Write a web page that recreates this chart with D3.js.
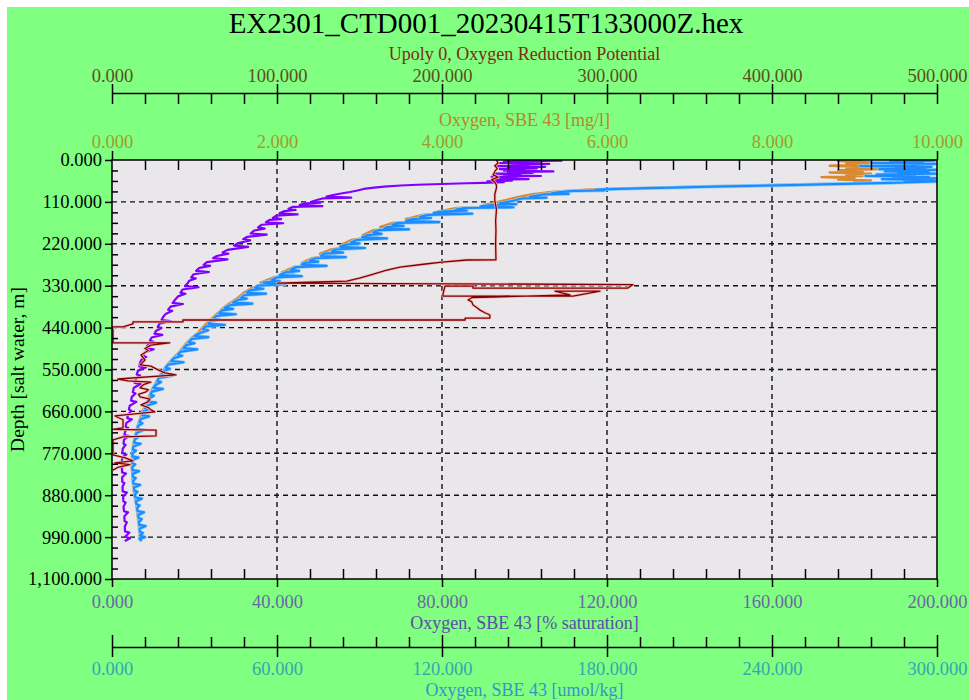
<!DOCTYPE html>
<html>
<head>
<meta charset="utf-8">
<script src="https://cdn.jsdelivr.net/npm/d3@7"></script>
<style>
  body { margin: 0; background: #fff; }
  text { font-family: "Liberation Serif", "Times New Roman", serif; }
</style>
</head>
<body>
<script>
// Tick values of each axis
var depthTicks = [0, 110, 220, 330, 440, 550, 660, 770, 880, 990, 1100];
var orpTicks = [0, 100, 200, 300, 400, 500];
var mglTicks = [0, 2, 4, 6, 8, 10];
var satTicks = [0, 40, 80, 120, 160, 200];
var umolTicks = [0, 60, 120, 180, 240, 300];

// Axis titles
var chartTitle = "EX2301_CTD001_20230415T133000Z.hex";
var orpTitle = "Upoly 0, Oxygen Reduction Potential";
var mglTitle = "Oxygen, SBE 43 [mg/l]";
var satTitle = "Oxygen, SBE 43 [% saturation]";
var umolTitle = "Oxygen, SBE 43 [umol/kg]";
var depthTitle = "Depth [salt water, m]";

// Series: [depth m, value]
var oxUmol = [[0,290],[2,299],[4,283],[6,295],[8,276],[10,300],[12,287],[14,293],[16,272],[18,298],[20,285],[22,296],[24,279],[26,300],[28,290],[30,281],[32,297],[34,286],[36,300],[38,278],[40,292],[42,274],[44,297],[46,284],[48,300],[50,280],[52,299],[54,288],[56,300],[58,291],
  [60,283],[62,270],[64,258],[66,246],[68,232],[70,218],[72,207],[74,195],[76,184],[78,176],[80,179],[81,168],[84,163],[87,160],[89,166],[90,157],[94,154],[97,152],[99,158],[101,149],[105,147],[110,144],
  [114,141],[116,147],[118,138],[122,134],[124,146],[126,128],[130,125],[133,129],[135,121],[139,117],[141,131],[144,115],[149,112],[152,116],[155,109],[160,107],[163,119],[165,104],[170,102],[173,106],[176,100],[180,99],[182,108],[184,97],[190,95],[194,98],[197,93],[203,91],[206,100],[210,89],[216,87],[219,90],[222,85],[228,83],[231,92],[235,81],[240,80],[243,84],[246,77],[252,76],[255,85],[258,74],[264,72],[267,75],[270,70],[275,69],[278,78],[281,67],[288,65],[291,68],[295,63],[302,61],[305,69],[308,60],[315,58],[318,61],[322,55],[326,63],[330,53],[335,52],[338,55],[342,50],[348,49],[351,56],[355,48],[361,47],[364,49],[367,46],[374,44],[377,51],[381,43],[388,41],[391,44],[395,40],[402,39],[405,45],[409,38],[416,37],[419,39],[423,36],[430,35],[433,41],[437,34],[444,33],[447,35],[454,32],[462,30],[465,35],[470,29],[478,28],[481,30],[486,27],[494,26],[497,31],[503,25],[511,24],[514,25.5],[520,22.5],[528,21.5],[531,26],[537,20.5],[545,19.5],[548,21],[555,18.5],[563,18],[566,22],[572,17],[580,16.5],[583,17.8],[590,16],[598,15],[601,18.5],[608,14.5],[616,14],[619,15.2],[626,13.5],[634,13],[637,16],[645,12.5],[652,12],[655,13],[662,11],[670,11],[673,13.5],[680,10.5],[688,10],[691,11],[698,9.5],[706,9.2],[709,11.5],[716,9],[724,8.6],[727,9.6],[734,8.3],[742,8],[745,10.4],[752,7.8],[760,7.6],[763,8.7],[770,7.4],[778,7.4],[781,9.6],[788,7.3],[796,7.3],[799,8.4],[806,7.4],[814,7.4],[817,9.8],[824,7.5],[832,7.6],[835,8.6],[842,7.7],[850,7.8],[853,10.2],[860,8],[868,8.1],[871,9.2],[878,8.3],[886,8.5],[889,10.8],[896,8.7],[904,8.9],[907,10],[914,9.1],[922,9.3],[925,11.6],[932,9.5],[940,9.7],[943,10.8],[950,9.8],[958,9.9],[961,12.2],[968,10],[976,10.1],[979,11.2],[986,10.2],[990,12],[994,10],[1000,10.8]];

var oxMgl = [[0,9.1],[3,8.8],[6,9.3],[9,8.9],[12,9.2],[15,8.7],[18,9.15],[21,8.9],[24,9.3],[27,8.8],[30,9.1],[33,8.7],[36,9.2],[39,8.9],[42,9.1],[45,8.6],[48,9.0],[51,8.8],[54,9.2],[57,9.0],[60,9.2],[62,8.8],[64,8.3],[66,7.9],[68,7.5],[70,7.0],[72,6.7],[74,6.3],[76,6.0],[78,5.75],[81,5.5],[84,5.32],[87,5.2],[90,5.1],[94,5.0],[97,4.93],[101,4.85],[105,4.78],[110,4.68],[118,4.5],[121,4.75],[126,4.18],[135,3.95],[138,4.2],[144,3.76],[155,3.56],[158,3.8],[165,3.4],[176,3.25],[179,3.45],[184,3.17],[197,3.04],[200,3.2],[210,2.9],[222,2.78],[225,2.98],[235,2.65],[246,2.52],[249,2.7],[258,2.42],[270,2.3],[273,2.48],[281,2.2],[295,2.06],[298,2.2],[308,1.96],[322,1.8],[326,1.95],[335,1.7],[348,1.6],[361,1.53],[374,1.44],[388,1.35],[402,1.28],[416,1.21],[430,1.14],[444,1.08],[454,1.04],[470,0.95],[486,0.88],[503,0.82],[520,0.74],[537,0.67],[555,0.61],[572,0.56],[590,0.52],[608,0.47],[626,0.44],[645,0.41],[662,0.36],[680,0.34],[698,0.31],[716,0.29],[734,0.27],[752,0.255],[770,0.243],[788,0.24],[806,0.24],[824,0.245],[842,0.25],[860,0.26],[878,0.27],[896,0.285],[914,0.3],[932,0.31],[950,0.32],[968,0.33],[986,0.335],[1000,0.34]];

var oxSat = [[0,97],[2,109],[4,95],[6,104],[8,94],[10,106],[12,97],[14,101],[16,93],[18,105],[20,96],[22,103],[24,94],[26,100],[28,95],[30,107],[32,96],[34,102],[36,93],[38,99],[40,95],[42,104],[44,92],[46,98],[48,94],[50,101],[52,93],[54,97],[56,91],[58,95],[60,90],
  [61,86],[63,80],[65,74],[67,70],[70,66],[73,63],[76,61],[80,59.5],[84,57.7],[88,55.5],[92,53.6],[96,52],[99,58],[101,51],[105,49.7],[109,48.5],[112,50.5],[114,47],[118,45.5],[121,51],[123,43.9],[128,42.8],[131,44.5],[134,41.8],[140,40.6],[143,45],[146,39.8],[152,39],[155,41],[157,38.3],[163,37.3],[166,41.5],[170,36.3],[177,35.4],[180,37],[185,34.5],[193,33.6],[196,37.5],[202,32.7],[208,31.8],[211,33.5],[218,30.6],[225,29.6],[228,33],[236,28],[243,26.8],[246,28.2],[252,25.4],[258,24.5],[261,28],[268,23],[275,22.2],[278,23.8],[283,21.2],[291,20.4],[294,23.5],[300,19.8],[308,19.2],[311,20.3],[317,18.7],[323,18.4],[331,17.7],[334,21],[340,17.1],[348,16.6],[351,17.8],[358,16],[367,15.3],[375,14.7],[378,17.2],[385,14.2],[393,13.6],[396,14.6],[404,13],[412,12.4],[420,12],[423,14.2],[430,11.5],[438,11.1],[441,12],[448,10.7],[456,10.3],[459,12.2],[466,9.6],[474,9.2],[477,10],[485,8.7],[494,8.3],[497,10.1],[505,7.9],[514,7.5],[517,8.3],[525,7.1],[533,6.8],[542,6.6],[545,8.2],[553,6.3],[563,6.0],[566,6.8],[575,5.8],[585,5.5],[588,6.9],[598,5.3],[610,5.05],[613,5.7],[622,4.8],[632,4.6],[635,5.9],[645,4.3],[655,4.1],[658,4.7],[668,3.9],[678,3.7],[681,4.8],[690,3.5],[700,3.3],[703,3.9],[712,3.2],[722,3],[725,4.1],[734,2.9],[745,2.8],[748,3.3],[758,2.6],[770,2.5],[773,3.5],[782,2.45],[795,2.4],[798,2.9],[808,2.4],[820,2.45],[823,3.4],[833,2.45],[845,2.5],[848,3],[858,2.55],[870,2.6],[873,3.6],[884,2.7],[896,2.75],[899,3.3],[910,2.8],[922,2.9],[925,3.9],[935,3],[948,3.05],[951,3.6],[962,3.1],[975,3.15],[978,4.2],[989,3.2],[993,4.4],[1000,3.1]];

var orp = [[0,233],[8,234],[15,232],[22,233.5],[30,232],[39,231],[45,234],[52,230],[58,232],[66,233],[73,233],[90,232],[105,232],[130,233],[160,232.5],[184,232.7],[220,232.5],[262,232.7],[262.5,215],[268,200],[273,190],[281,174.5],[290,166],[302,156.4],[310,150],[318,142.4],[321,120],[323,100],[327,315.8],[336,312.7],[336.5,218.8],[331,218.8],[331,201.8],[352,200.6],[357,200.6],[357.5,279.4],[344,295.8],[344,268.5],[354,277.6],[361,218.2],[367.5,215.8],[372,218],[380.5,218.8],[387,221],[394,223],[401,226],[407,229],[415,229],[415,214],[420,214],[420,43],[425,43],[425,12.7],[430,12.7],[438,6.7],[438,0],[446,0.6],[480,0.6],[480,35],[486,23.6],[495,20],[500,22],[512,17.6],[525,20],[538,17],[541,23.6],[551,27.9],[559,32],[564,38.8],[575,3.6],[580,9.7],[583,23.6],[590,19],[598,17],[603,22],[609,20.6],[615,16],[622,17],[628,23],[635,21.8],[643,17.6],[650,22],[656,23.6],[661,26],[672,1.8],[682,6.7],[703,6.7],[707,0.6],[709,26.7],[724,26.7],[727,6.7],[735,0.6],[774,0.6],[782,8],[790,12.7],[795,1.8],[800,10.9],[806,4],[814,0.6]];

var svg = d3.select("body")
            .append("svg")
            .attr("width", 969)
            .attr("height", 700);

var margin = {top: 160, left: 112},
    width = 825,
    height = 419;

var fmt = d3.format(",.3f");

// Scales
var y = d3.scaleLinear().domain([0, 1100]).range([margin.top, margin.top + height]);
var xOrp = d3.scaleLinear().domain([0, 500]).range([margin.left, margin.left + width]);
var xMgl = d3.scaleLinear().domain([0, 10]).range([margin.left, margin.left + width]);
var xSat = d3.scaleLinear().domain([0, 200]).range([margin.left, margin.left + width]);
var xUmol = d3.scaleLinear().domain([0, 300]).range([margin.left, margin.left + width]);

function minors(ticks, n) {
  var out = [];
  for (var i = 0; i < ticks.length - 1; i++) {
    var step = (ticks[i + 1] - ticks[i]) / n;
    for (var k = 1; k < n; k++) out.push(ticks[i] + k * step);
  }
  return out;
}

// Background
svg.append("rect").attr("x", 7).attr("y", 7).attr("width", 962).attr("height", 693).attr("fill", "#80ff80");
svg.append("rect")
  .attr("x", margin.left).attr("y", margin.top)
  .attr("width", width).attr("height", height)
  .attr("fill", "#e9e7ea");

svg.append("clipPath").attr("id", "clip")
  .append("rect")
  .attr("x", margin.left).attr("y", margin.top)
  .attr("width", width).attr("height", height);

// Grid
var grid = svg.append("g").attr("stroke", "#111").attr("stroke-width", 1.4).attr("stroke-dasharray", "5,4");
grid.selectAll(".gx")
  .data(mglTicks.slice(1, -1))
  .enter().append("line")
  .attr("x1", function(d) { return xMgl(d); })
  .attr("x2", function(d) { return xMgl(d); })
  .attr("y1", margin.top)
  .attr("y2", margin.top + height);
grid.selectAll(".gy")
  .data(depthTicks.slice(1, -1))
  .enter().append("line")
  .attr("x1", margin.left)
  .attr("x2", margin.left + width)
  .attr("y1", function(d) { return y(d); })
  .attr("y2", function(d) { return y(d); });

// Traces
var plot = svg.append("g").attr("clip-path", "url(#clip)");

function trace(data, xs, color, w, halo, hw) {
  var line = d3.line()
    .x(function(d) { return xs(d[1]); })
    .y(function(d) { return y(d[0]); });
  if (halo) {
    plot.append("path").datum(data)
      .attr("fill", "none").attr("stroke", halo).attr("stroke-width", hw)
      .attr("stroke-linejoin", "round").attr("d", line);
  }
  plot.append("path").datum(data)
    .attr("fill", "none").attr("stroke", color).attr("stroke-width", w)
    .attr("stroke-linejoin", "round").attr("d", line);
}

trace(oxMgl, xMgl, "#d9892f", 2.4);
trace(oxUmol, xUmol, "#1e8cff", 2.2, "#8fd2ff", 3.6);
trace(oxSat, xSat, "#8000ff", 2.2);
trace(orp, xOrp, "#800000", 1.3, "#f3b8b8", 2.8);

// Plot frame
svg.append("rect")
  .attr("x", margin.left).attr("y", margin.top)
  .attr("width", width).attr("height", height)
  .attr("fill", "none").attr("stroke", "#000").attr("stroke-width", 1.5);

function styleAxis(g, color) {
  g.selectAll(".tick line").attr("stroke", "#000").attr("stroke-width", 1.5);
  g.select(".domain").attr("stroke", "#000").attr("stroke-width", 1.5);
  g.selectAll("text").attr("fill", color).style("font-size", "18.5px")
    .attr("font-family", "Liberation Serif, serif");
}

// Top axis: ORP
var orpY = 93;
var gOrp = svg.append("g").attr("transform", "translate(0," + orpY + ")")
  .call(d3.axisTop(xOrp).tickValues(orpTicks).tickSize(9).tickSizeOuter(0).tickPadding(2).tickFormat(fmt));
styleAxis(gOrp, "#5a4f1e");
var gOrpM = svg.append("g").attr("transform", "translate(0," + orpY + ")")
  .call(d3.axisBottom(xOrp).tickValues(orpTicks.concat(minors(orpTicks, 5))).tickSize(11).tickFormat(""));
gOrpM.select(".domain").remove();
styleAxis(gOrpM, "#000");

// Top axis of plot: mg/l
var gMgl = svg.append("g").attr("transform", "translate(0," + margin.top + ")")
  .call(d3.axisTop(xMgl).tickValues(mglTicks).tickSize(9).tickPadding(3).tickFormat(fmt));
gMgl.select(".domain").remove();
styleAxis(gMgl, "#a29c2c");
var gMglM = svg.append("g").attr("transform", "translate(0," + margin.top + ")")
  .call(d3.axisBottom(xMgl).tickValues(minors(mglTicks, 5)).tickSize(10).tickFormat(""));
gMglM.select(".domain").remove();
styleAxis(gMglM, "#000");

// Bottom axis of plot: % saturation
var bottom = margin.top + height;
var gSat = svg.append("g").attr("transform", "translate(0," + bottom + ")")
  .call(d3.axisBottom(xSat).tickValues(satTicks).tickSize(8).tickPadding(8).tickFormat(fmt));
gSat.select(".domain").remove();
styleAxis(gSat, "#6a68a6");
var gSatM = svg.append("g").attr("transform", "translate(0," + bottom + ")")
  .call(d3.axisTop(xSat).tickValues(minors(satTicks, 5)).tickSize(10).tickFormat(""));
gSatM.select(".domain").remove();
styleAxis(gSatM, "#000");

// Second bottom axis: umol/kg
var umolY = 647;
var gUmol = svg.append("g").attr("transform", "translate(0," + umolY + ")")
  .call(d3.axisBottom(xUmol).tickValues(umolTicks).tickSize(10).tickSizeOuter(0).tickPadding(5).tickFormat(fmt));
styleAxis(gUmol, "#36a6b0");
var gUmolM = svg.append("g").attr("transform", "translate(0," + umolY + ")")
  .call(d3.axisTop(xUmol).tickValues(minors(umolTicks, 5)).tickSize(10).tickFormat(""));
gUmolM.select(".domain").remove();
styleAxis(gUmolM, "#000");
var gUmolT = svg.append("g").attr("transform", "translate(0," + umolY + ")")
  .call(d3.axisTop(xUmol).tickValues(umolTicks).tickSize(12).tickFormat(""));
gUmolT.select(".domain").remove();
styleAxis(gUmolT, "#000");

// Left axis: depth
var gDepth = svg.append("g").attr("transform", "translate(" + margin.left + ",0)")
  .call(d3.axisLeft(y).tickValues(depthTicks).tickSize(7).tickPadding(3).tickFormat(fmt));
gDepth.select(".domain").remove();
styleAxis(gDepth, "#000");
var gDepthM = svg.append("g").attr("transform", "translate(" + margin.left + ",0)")
  .call(d3.axisRight(y).tickValues(minors(depthTicks, 4)).tickSize(6).tickFormat(""));
gDepthM.select(".domain").remove();
styleAxis(gDepthM, "#000");

// Titles
var cx = margin.left + width / 2;
svg.append("text")
  .attr("x", 486).attr("y", 33)
  .attr("text-anchor", "middle")
  .style("font-size", "29px")
  .attr("fill", "#000")
  .text(chartTitle);

function axisTitle(txt, yy, color) {
  svg.append("text")
    .attr("x", cx).attr("y", yy)
    .attr("text-anchor", "middle")
    .style("font-size", "18px")
    .attr("fill", color)
    .text(txt);
}
axisTitle(orpTitle, 60, "#7b2d12");
axisTitle(mglTitle, 126, "#b8862e");
axisTitle(satTitle, 629, "#5a4fa8");
axisTitle(umolTitle, 696, "#3a93c8");

svg.append("text")
  .attr("transform", "translate(24," + (margin.top + height / 2) + ") rotate(-90)")
  .attr("text-anchor", "middle")
  .style("font-size", "19.5px")
  .attr("fill", "#000")
  .text(depthTitle);
</script>
</body>
</html>
